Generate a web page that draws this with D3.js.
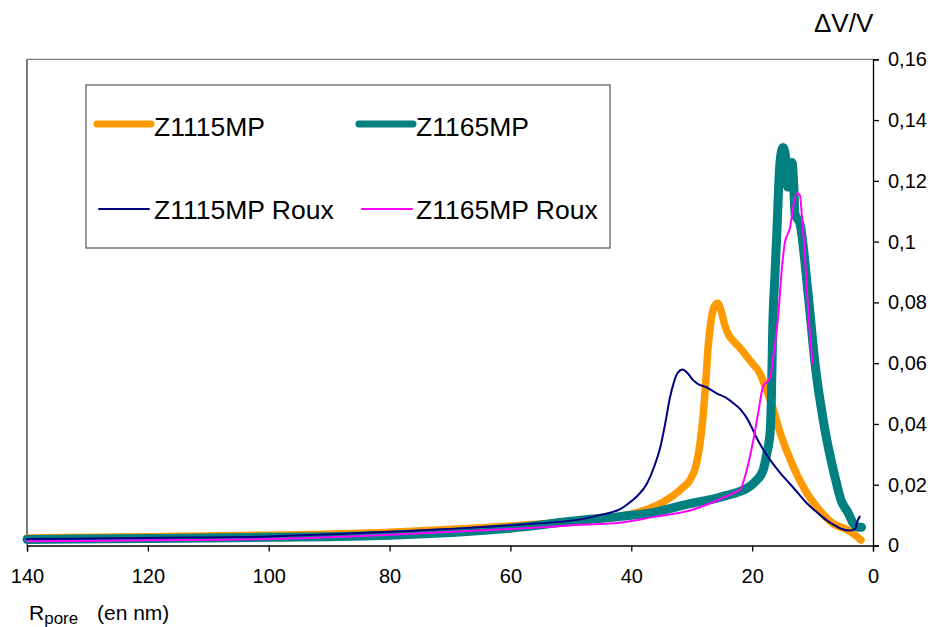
<!DOCTYPE html>
<html><head><meta charset="utf-8">
<script src="https://cdn.jsdelivr.net/npm/d3@7/dist/d3.min.js"></script>
<style>
html,body{margin:0;padding:0;background:#fff;}
svg{display:block;font-family:"Liberation Sans",Arial,sans-serif;}
</style></head>
<body>
<svg id="chart" width="933" height="627"></svg>
<script>
// ---- data (R in nm, dV/V) ----
const z1115R = [140,120,100,80,60,48,42,38,35,33,31.5,30.3,29.2,28.6,28.1,27.6,27.3,26.8,26.3,25.7,25.1,24.6,23.8,23.2,22,20.8,20,18.7,17.6,16.6,15.5,14.3,12.5,10.9,9,6.6,4.3,3,2];
const z1115V = [0.0025,0.0029,0.0034,0.0044,0.0064,0.0082,0.0095,0.0115,0.014,0.0165,0.019,0.0215,0.027,0.034,0.043,0.056,0.065,0.074,0.0785,0.0797,0.077,0.073,0.069,0.0675,0.065,0.062,0.06,0.0566,0.051,0.0455,0.038,0.0313,0.023,0.0171,0.012,0.0072,0.0052,0.0035,0.0018];

const z1165R = [140,120,100,80,60,48,42,36,30.3,26,24.2,22,20.9,19.5,18.2,17.6,17,16.8,16.6,16.2,15.9,15.4,14.9,14.4,14.1,13.7,13.4,13.1,12.9,12.1,10.7,9.6,7.95,6.3,5.3,4.1,3.3,2.4,1.9];
const z1165V = [0.002,0.0023,0.0027,0.0034,0.0057,0.0084,0.0095,0.011,0.0138,0.0155,0.0165,0.0178,0.0188,0.021,0.0247,0.03,0.0379,0.05,0.0708,0.09,0.1037,0.1258,0.131,0.127,0.118,0.121,0.126,0.118,0.109,0.106,0.082,0.06,0.038,0.0226,0.015,0.0107,0.0074,0.006,0.006];

const z1115RouxR = [140,120,100,80,60,48.5,45.2,43.5,41.9,40.7,39,37.4,36.2,35.2,34.4,33.6,32.9,32.4,31.5,30.6,29.8,29.1,27.5,25.8,24.5,23.2,21.8,20.9,20.1,19.3,18,16.6,15.2,13.8,12.3,10.9,9.2,7.6,6.5,5.4,3.8,2.9,2.6,2.2];
const z1115RouxV = [0.0021,0.0025,0.003,0.0045,0.0067,0.0086,0.01,0.0108,0.0119,0.0135,0.0163,0.0204,0.026,0.0323,0.04,0.0487,0.054,0.0566,0.0579,0.0565,0.0545,0.0533,0.052,0.05,0.0488,0.047,0.0445,0.042,0.039,0.0356,0.031,0.027,0.0235,0.0204,0.017,0.0138,0.0108,0.0082,0.0068,0.0056,0.0049,0.0056,0.0078,0.0095];

const z1165RouxR = [140,120,100,80,60,48.5,42,36,30.3,25.8,22.6,22,20.9,19.8,19,18.2,17.05,16.5,15.7,15.1,14.6,13.7,13.2,12.6,12.1,11.8,11.2,10.7,10];
const z1165RouxV = [0.0014,0.0017,0.0021,0.0035,0.0054,0.0068,0.0075,0.0095,0.0115,0.0148,0.0177,0.0183,0.0248,0.0347,0.0436,0.0523,0.0551,0.0621,0.0753,0.0907,0.0995,0.1049,0.1115,0.1159,0.1153,0.1094,0.093,0.0765,0.06];

const seriesNames = ["Z1115MP","Z1165MP","Z1115MP Roux","Z1165MP Roux"];
const xTicks = [140,120,100,80,60,40,20,0];
const yTicks = [0,0.02,0.04,0.06,0.08,0.1,0.12,0.14,0.16];
const yTickLabels = ["0","0,02","0,04","0,06","0,08","0,1","0,12","0,14","0,16"];

// ---- layout ----
const L = 27, R = 873, T = 59.3, B = 545.5;
const svg = d3.select("#chart");
const x = d3.scaleLinear().domain([140,0]).range([L,R]);
const y = d3.scaleLinear().domain([0,0.16]).range([B,T]);

// frame: top & left borders
svg.append("line").attr("x1",L).attr("x2",R).attr("y1",T).attr("y2",T).attr("stroke","#808080").attr("stroke-width",1.3);
svg.append("line").attr("x1",L).attr("x2",L).attr("y1",T).attr("y2",B).attr("stroke","#333").attr("stroke-width",1.3);

// axes
const xAxis = svg.append("g").attr("transform",`translate(0,${B})`)
  .call(d3.axisBottom(x).tickValues(xTicks).tickSize(6).tickPadding(17).tickFormat(d3.format("d")));
const yAxis = svg.append("g").attr("transform",`translate(${R},0)`)
  .call(d3.axisRight(y).tickValues(yTicks).tickSize(6).tickPadding(9).tickFormat((d,i)=>yTickLabels[i]));
[xAxis,yAxis].forEach(g=>{
  g.select(".domain").attr("stroke","#000").attr("stroke-width",1.3);
  g.selectAll(".tick line").attr("stroke","#000").attr("stroke-width",1.3);
  g.selectAll(".tick text").attr("fill","#000").style("font-size","20px").style("font-family","'Liberation Sans',Arial,sans-serif");
});

// series
const mk = (rs,vs)=>rs.map((r,i)=>[r,vs[i]]);
const data = [
  {pts:mk(z1115R,z1115V), color:"#FF9900", w:7.5, lw:7},
  {pts:mk(z1165R,z1165V), color:"#008080", w:9, lw:7},
  {pts:mk(z1115RouxR,z1115RouxV), color:"#000080", w:2, lw:2},
  {pts:mk(z1165RouxR,z1165RouxV), color:"#FF00FF", w:2, lw:2}
];
const line = d3.line().x(d=>x(d[0])).y(d=>y(d[1])).curve(d3.curveMonotoneX);
data.forEach(s=>{
  svg.append("path").attr("d",line(s.pts)).attr("fill","none")
    .attr("stroke",s.color).attr("stroke-width",s.w)
    .attr("stroke-linejoin","round").attr("stroke-linecap","round");
});

// legend
const lg = svg.append("g");
lg.append("rect").attr("x",86).attr("y",85).attr("width",524).attr("height",163)
  .attr("fill","#fff").attr("stroke","#555").attr("stroke-width",1.2);
const legPos = [[97,151,124,154,136],[359,413,124,416,136],[99,149,209,154,219],[362,412,209,416,219]];
data.forEach((s,i)=>{
  const p = legPos[i];
  lg.append("line").attr("x1",p[0]).attr("x2",p[1]).attr("y1",p[2]).attr("y2",p[2])
    .attr("stroke",s.color).attr("stroke-width",s.lw).attr("stroke-linecap","round");
  lg.append("text").attr("x",p[3]).attr("y",p[4]).text(seriesNames[i])
    .style("font-size","26.5px").attr("fill","#000");
});

// axis titles
svg.append("text").attr("x",814).attr("y",32).text("\u0394V/V").style("font-size","26px").attr("fill","#000");
const xt = svg.append("text").attr("y",620).style("font-size","21px").attr("fill","#000");
xt.append("tspan").attr("x",29).text("R");
xt.append("tspan").text("pore").attr("dy",4).style("font-size","17px");
xt.append("tspan").attr("x",97).attr("dy",-4).text("(en nm)");
</script>
</body></html>
